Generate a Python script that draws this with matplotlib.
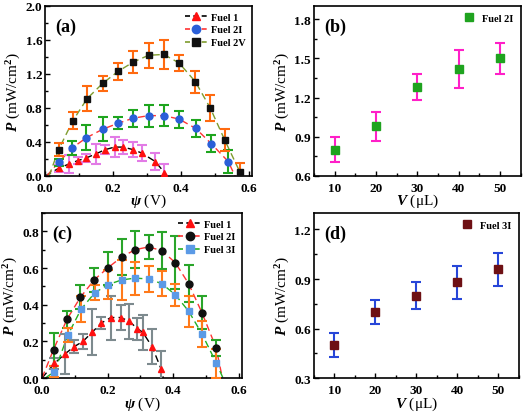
import numpy as np
import matplotlib
matplotlib.use("Agg")
from matplotlib import pyplot as plt
from matplotlib.ticker import AutoMinorLocator, MultipleLocator

plt.rcParams['font.family'] = ['Liberation Serif', 'DejaVu Serif']
plt.rcParams['font.weight'] = 'bold'
plt.rcParams['mathtext.fontset'] = 'custom'
plt.rcParams['mathtext.rm'] = 'Liberation Serif:bold'
plt.rcParams['mathtext.it'] = 'Liberation Serif:bold:italic'
plt.rcParams['mathtext.bf'] = 'Liberation Serif:bold'

# ---- panel (a) ----
a_f1_x = [0.04, 0.07, 0.096, 0.12, 0.15, 0.177, 0.205, 0.23, 0.26, 0.285, 0.325, 0.352]
a_f1_y = [0.09, 0.14, 0.18, 0.21, 0.26, 0.31, 0.34, 0.34, 0.31, 0.27, 0.17, 0.04]
a_f1_e = [0.04, 0.11, 0.04, 0.05, 0.12, 0.05, 0.12, 0.08, 0.09, 0.09, 0.10, 0.10]

a_f2i_x = [0.04, 0.08, 0.122, 0.17, 0.215, 0.26, 0.305, 0.35, 0.395, 0.444, 0.49, 0.54]
a_f2i_y = [0.16, 0.33, 0.45, 0.55, 0.62, 0.68, 0.71, 0.71, 0.67, 0.56, 0.38, 0.17]
a_f2i_e = [0.04, 0.08, 0.15, 0.14, 0.07, 0.10, 0.13, 0.12, 0.10, 0.10, 0.10, 0.13]

a_f2v_x = [0.04, 0.082, 0.124, 0.17, 0.215, 0.26, 0.305, 0.35, 0.395, 0.443, 0.487, 0.53, 0.574]
a_f2v_y = [0.31, 0.65, 0.91, 1.09, 1.23, 1.34, 1.42, 1.43, 1.33, 1.11, 0.80, 0.42, 0.05]
a_f2v_e = [0.08, 0.10, 0.15, 0.09, 0.10, 0.13, 0.15, 0.17, 0.09, 0.13, 0.15, 0.13, 0.10]

# ---- panel (b) ----
b_vol = [10, 20, 30, 40, 50]
b_p = [0.80, 0.98, 1.28, 1.42, 1.50]
b_e = [0.095, 0.11, 0.10, 0.145, 0.12]

# ---- panel (c) ----
c_f1_x = [0.038, 0.069, 0.097, 0.125, 0.153, 0.181, 0.21, 0.24, 0.266, 0.29, 0.307, 0.336, 0.363]
c_f1_y = [0.08, 0.13, 0.17, 0.20, 0.25, 0.30, 0.33, 0.33, 0.31, 0.27, 0.25, 0.17, 0.05]
c_f1_e = [0.03, 0.11, 0.035, 0.04, 0.125, 0.035, 0.12, 0.07, 0.095, 0.06, 0.095, 0.095, 0.095]

c_f2i_x = [0.035, 0.076, 0.117, 0.159, 0.2, 0.243, 0.284, 0.325, 0.365, 0.406, 0.447, 0.488, 0.531]
c_f2i_y = [0.155, 0.32, 0.44, 0.535, 0.60, 0.66, 0.70, 0.715, 0.695, 0.63, 0.515, 0.355, 0.165]
c_f2i_e = [0.09, 0.045, 0.065, 0.065, 0.09, 0.10, 0.10, 0.065, 0.10, 0.145, 0.10, 0.09, 0.045]

c_f3i_x = [0.038, 0.079, 0.119, 0.161, 0.202, 0.243, 0.284, 0.325, 0.365, 0.406, 0.447, 0.488, 0.532]
c_f3i_y = [0.035, 0.235, 0.375, 0.465, 0.51, 0.535, 0.545, 0.54, 0.515, 0.455, 0.365, 0.24, 0.08]
c_f3i_e = [0.03, 0.04, 0.07, 0.04, 0.08, 0.11, 0.09, 0.07, 0.07, 0.06, 0.085, 0.07, 0.08]

# ---- panel (d) ----
d_vol = [10, 20, 30, 40, 50]
d_p = [0.50, 0.70, 0.80, 0.88, 0.96]
d_e = [0.07, 0.075, 0.08, 0.10, 0.10]

# where the dashed fit lines meet P = 0
a_ends = {'f1': (0.0, 0.36), 'f2i': (0.005, 0.56), 'f2v': (0.012, 0.585)}
c_ends = {'f1': (0.0, 0.37), 'f2i': (0.0, 0.55), 'f3i': (0.01, 0.552)}


def fit_line(x, y, ends):
    lx = [ends[0]] + list(x) + [ends[1]]
    ly = [0.0] + list(y) + [0.0]
    return lx, ly


def style_axis(ax):
    for s in ax.spines.values():
        s.set_linewidth(1.2)
    ax.tick_params(direction='in', which='both', labelsize=9.5, width=1.0)
    ax.tick_params(axis='x', pad=4)
    ax.tick_params(axis='y', pad=2)
    ax.tick_params(which='major', length=3.5)
    ax.tick_params(which='minor', length=2)
    ax.xaxis.set_minor_locator(AutoMinorLocator(2))
    ax.yaxis.set_minor_locator(AutoMinorLocator(2))
    for lab in ax.get_xticklabels() + ax.get_yticklabels():
        lab.set_fontweight('bold')


def series(ax, x, y, e, ends, line_color, marker, mcolor, ecolor, label, ms=5):
    lx, ly = fit_line(x, y, ends)
    ax.plot(lx, ly, ls=(0, (5, 3)), color=line_color, lw=1.0, zorder=2)
    ax.errorbar(x, y, yerr=e, fmt='none', ecolor=ecolor, elinewidth=1.5,
                capsize=3.5, capthick=1.5, zorder=3)
    ax.plot(x, y, ls='none', marker=marker, color=mcolor, ms=ms, zorder=4)
    # legend handle
    ax.plot([], [], ls=(0, (3, 2)), color=line_color, lw=1.2, marker=marker,
            mfc=mcolor, mec=mcolor, ms=ms + 1, label=label)


fig = plt.figure(figsize=(5.24, 4.14), dpi=100)
ax_a = fig.add_axes([0.0859, 0.5725, 0.395, 0.4106])
ax_b = fig.add_axes([0.599, 0.5725, 0.395, 0.4106])
ax_c = fig.add_axes([0.0802, 0.0845, 0.3817, 0.3986])
ax_d = fig.add_axes([0.599, 0.0845, 0.391, 0.3986])

ylab = r'$P$ (mW/cm$^2$)'
psi_lab = r'$\psi$ (V)'
vol_lab = r'$V$ (μL)'

# (a)
series(ax_a, a_f1_x, a_f1_y, a_f1_e, a_ends['f1'], 'black', '^', '#ff1010', '#e27be6', 'Fuel 1')
series(ax_a, a_f2i_x, a_f2i_y, a_f2i_e, a_ends['f2i'], '#ff3333', 'o', '#2a5fd8', '#1ea51e', 'Fuel 2I')
series(ax_a, a_f2v_x, a_f2v_y, a_f2v_e, a_ends['f2v'], '#7f9c2e', 's', '#111111', '#ff6a10', 'Fuel 2V', ms=4.5)
ax_a.set_xlim(0, 0.61)
ax_a.set_ylim(0, 2.0)
ax_a.xaxis.set_major_locator(MultipleLocator(0.2))
ax_a.yaxis.set_major_locator(MultipleLocator(0.4))
ax_a.set_xlabel(psi_lab, fontsize=11, labelpad=-1)
ax_a.set_ylabel(ylab, fontsize=11, labelpad=2)
ax_a.legend(loc='upper right', frameon=False, handlelength=2.2,
            handletextpad=0.3, labelspacing=0.35, borderaxespad=0.2,
            prop={'weight': 'bold', 'size': 7.5})
ax_a.text(0.05, 0.93, '(a)', transform=ax_a.transAxes, fontsize=13,
          fontweight='bold', va='top')
style_axis(ax_a)

# (b)
ax_b.errorbar(b_vol, b_p, yerr=b_e, fmt='none', ecolor='#ff1fc8', elinewidth=1.5,
              capsize=3.5, capthick=1.5, zorder=3)
ax_b.plot(b_vol, b_p, ls='none', marker='s', color='#1fa31f', ms=6, zorder=4, label='Fuel 2I')
ax_b.set_xlim(5, 55)
ax_b.set_ylim(0.6, 1.9)
ax_b.xaxis.set_major_locator(MultipleLocator(10))
ax_b.yaxis.set_major_locator(MultipleLocator(0.3))
ax_b.set_xlabel(vol_lab, fontsize=11, labelpad=-1)
ax_b.set_ylabel(ylab, fontsize=11, labelpad=2)
ax_b.legend(loc='upper right', frameon=False, handletextpad=0.3,
            borderaxespad=0.3, prop={'weight': 'bold', 'size': 7.5})
ax_b.text(0.05, 0.93, '(b)', transform=ax_b.transAxes, fontsize=13,
          fontweight='bold', va='top')
style_axis(ax_b)

# (c)
series(ax_c, c_f1_x, c_f1_y, c_f1_e, c_ends['f1'], 'black', '^', '#ff1010', '#7d8a8e', 'Fuel 1')
series(ax_c, c_f2i_x, c_f2i_y, c_f2i_e, c_ends['f2i'], '#ff3333', 'o', '#111111', '#2aa52a', 'Fuel 2I')
series(ax_c, c_f3i_x, c_f3i_y, c_f3i_e, c_ends['f3i'], '#22b022', 's', '#5b9ae6', '#ff7a1a', 'Fuel 3I', ms=4.5)
ax_c.set_xlim(0, 0.61)
ax_c.set_ylim(0, 0.9)
ax_c.xaxis.set_major_locator(MultipleLocator(0.2))
ax_c.yaxis.set_major_locator(MultipleLocator(0.2))
ax_c.set_xlabel(psi_lab, fontsize=11, labelpad=-1)
ax_c.set_ylabel(ylab, fontsize=11, labelpad=2)
ax_c.legend(loc='upper right', frameon=False, handlelength=2.2,
            handletextpad=0.3, labelspacing=0.35, borderaxespad=0.2,
            prop={'weight': 'bold', 'size': 7.5})
ax_c.text(0.05, 0.93, '(c)', transform=ax_c.transAxes, fontsize=13,
          fontweight='bold', va='top')
style_axis(ax_c)

# (d)
ax_d.errorbar(d_vol, d_p, yerr=d_e, fmt='none', ecolor='#2746d8', elinewidth=1.5,
              capsize=3.5, capthick=1.5, zorder=3)
ax_d.plot(d_vol, d_p, ls='none', marker='s', color='#6e1014', ms=6, zorder=4, label='Fuel 3I')
ax_d.set_xlim(5, 55)
ax_d.set_ylim(0.3, 1.3)
ax_d.xaxis.set_major_locator(MultipleLocator(10))
ax_d.yaxis.set_major_locator(MultipleLocator(0.3))
ax_d.set_xlabel(vol_lab, fontsize=11, labelpad=-1)
ax_d.set_ylabel(ylab, fontsize=11, labelpad=2)
ax_d.legend(loc='upper right', frameon=False, handletextpad=0.3,
            borderaxespad=0.3, prop={'weight': 'bold', 'size': 7.5})
ax_d.text(0.05, 0.93, '(d)', transform=ax_d.transAxes, fontsize=13,
          fontweight='bold', va='top')
style_axis(ax_d)

plt.savefig('out.png', dpi=100)
